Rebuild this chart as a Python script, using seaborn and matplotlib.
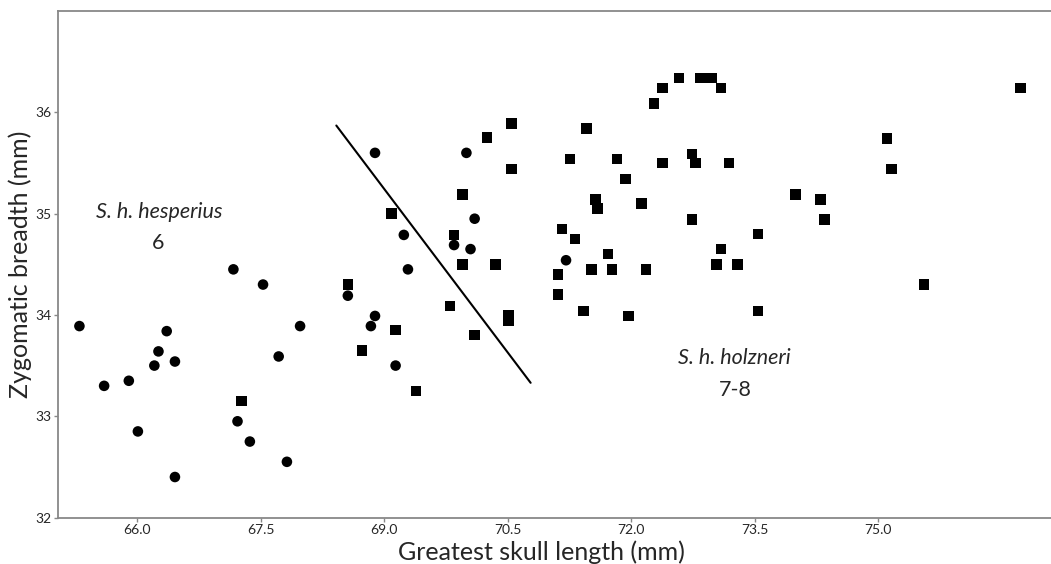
import matplotlib
matplotlib.use('Agg')
import matplotlib.pyplot as plt
import seaborn as sns
import pandas as pd

# S. h. hesperius (circles)
hesp_x = [65.30, 65.60, 65.90, 66.01, 66.21, 66.26, 66.36, 66.46, 66.46, 67.17,
          67.53, 67.22, 67.37, 67.82, 67.72, 67.98, 68.56, 68.89, 70.00, 70.10,
          69.24, 69.85, 70.05, 69.29, 68.89, 68.84, 69.14, 71.21]
hesp_y = [33.89, 33.30, 33.35, 32.85, 33.50, 33.64, 33.84, 33.54, 32.40, 34.45,
          34.30, 32.95, 32.75, 32.55, 33.59, 33.89, 34.19, 35.60, 35.60, 34.95,
          34.79, 34.69, 34.65, 34.45, 33.99, 33.89, 33.50, 34.54]

# S. h. holzneri (squares)
holz_x = [67.27, 68.56, 70.55, 70.25, 71.46, 70.55, 71.26, 69.95, 69.09, 69.85,
          69.95, 70.35, 69.80, 70.51, 70.51, 70.10, 69.14, 68.73, 69.39, 71.57,
          71.59, 71.16, 71.32, 71.11, 71.11, 71.52, 71.42, 72.58, 72.84, 72.98,
          72.38, 73.09, 72.28, 71.83, 72.38, 72.74, 72.78, 73.19, 71.93, 72.13,
          72.74, 74.00, 74.30, 74.35, 73.54, 71.72, 73.09, 71.77, 72.18, 73.04,
          73.29, 71.97, 73.54, 75.11, 75.16, 75.56, 76.73]
holz_y = [33.15, 34.30, 35.89, 35.75, 35.84, 35.44, 35.54, 35.19, 35.00, 34.79,
          34.50, 34.50, 34.09, 34.00, 33.94, 33.80, 33.85, 33.65, 33.25, 35.14,
          35.05, 34.85, 34.75, 34.40, 34.20, 34.45, 34.04, 36.34, 36.34, 36.34,
          36.24, 36.24, 36.09, 35.54, 35.50, 35.59, 35.50, 35.50, 35.34, 35.10,
          34.94, 35.19, 35.14, 34.94, 34.80, 34.60, 34.65, 34.45, 34.45, 34.50,
          34.50, 33.99, 34.04, 35.74, 35.44, 34.30, 36.24]

# dividing line
line_x = [68.42, 70.78]
line_y = [35.87, 33.33]

x_ticks = [66.0, 67.5, 69.0, 70.5, 72.0, 73.5, 75.0]
y_ticks = [32, 33, 34, 35, 36]

df = pd.DataFrame({
    'length': hesp_x + holz_x,
    'breadth': hesp_y + holz_y,
    'group': ['hesperius'] * len(hesp_x) + ['holzneri'] * len(holz_x),
})

sns.set_style('white')
plt.rcParams['font.family'] = ['Lato', 'DejaVu Sans']

fig = plt.figure(figsize=(10.51, 5.64), dpi=100)
ax = fig.add_axes([0.0552, 0.0824, 0.9448, 0.898])

sns.scatterplot(data=df, x='length', y='breadth', style='group',
                markers={'hesperius': 'o', 'holzneri': 's'},
                color='black', s=58, linewidth=0, legend=False, ax=ax)
sns.lineplot(x=line_x, y=line_y, color='black', linewidth=1.5, ax=ax)

ax.set_xlim(65.04, 77.1)
ax.set_ylim(32, 37)
ax.set_xticks(x_ticks)
ax.set_xticklabels([f'{v:.1f}' for v in x_ticks])
ax.set_yticks(y_ticks)
ax.tick_params(axis='both', labelsize=10, length=3, width=1, color='#888888',
               direction='out', pad=2, left=True, bottom=True)

for side in ['top', 'left', 'bottom']:
    ax.spines[side].set_color('#888888')
    ax.spines[side].set_linewidth(1.3)
ax.spines['right'].set_visible(False)

ax.set_xlabel('Greatest skull length (mm)', fontsize=18, labelpad=-1)
ax.xaxis.set_label_coords(0.487, -0.045)
ax.set_ylabel('Zygomatic breadth (mm)', fontsize=18, labelpad=2)

ax.text(66.27, 35.02, 'S. h. hesperius', style='italic', fontsize=15.5,
        ha='center', va='center')
ax.text(66.25, 34.71, '6', fontsize=15.5, ha='center', va='center')
ax.text(73.26, 33.57, 'S. h. holzneri', style='italic', fontsize=15.5,
        ha='center', va='center')
ax.text(73.26, 33.26, '7-8', fontsize=15.5, ha='center', va='center')

fig.savefig('out.png', dpi=100)
